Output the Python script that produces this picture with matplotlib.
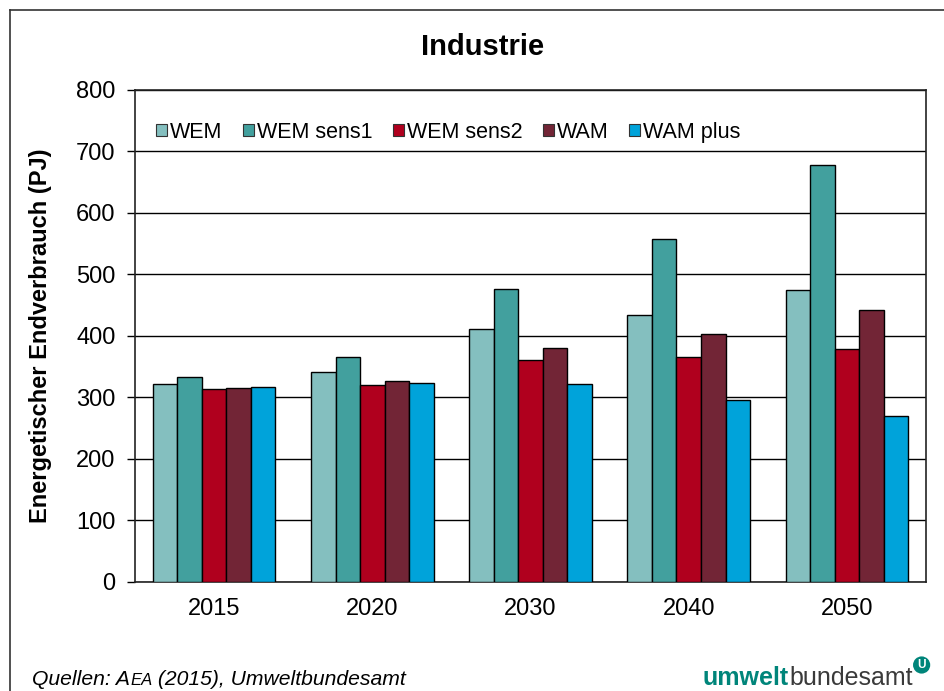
import matplotlib.pyplot as plt
import numpy as np
from matplotlib.lines import Line2D

plt.rcParams['font.family'] = ['Liberation Sans', 'DejaVu Sans']

# Data (PJ)
years = ['2015', '2020', '2030', '2040', '2050']
series = ['WEM', 'WEM sens1', 'WEM sens2', 'WAM', 'WAM plus']
wem = [322, 341, 411, 434, 474]
wem_sens1 = [333, 366, 476, 557, 678]
wem_sens2 = [314, 320, 361, 366, 379]
wam = [315, 327, 381, 403, 442]
wam_plus = [317, 324, 322, 295, 270]
colors = ['#84BFBF', '#42A09E', '#B0001E', '#722536', '#00A3DA']

values = [wem, wem_sens1, wem_sens2, wam, wam_plus]

fig = plt.figure(figsize=(9.44, 6.91), dpi=100)
ax = fig.add_axes([0.143, 0.158, 0.838, 0.712])

x = np.arange(len(years))
w = 0.155
for i, (vals, name, col) in enumerate(zip(values, series, colors)):
    ax.bar(x + (i - 2) * w, vals, w, color=col, edgecolor='black', linewidth=1,
           label=name, zorder=3)

ax.set_xlim(-0.5, 4.5)
ax.set_ylim(0, 800)
ax.set_yticks(range(0, 801, 100))
ax.set_xticks(x)
ax.set_xticklabels(years)
ax.tick_params(axis='y', labelsize=17, length=6, width=1, pad=8)
ax.tick_params(axis='x', labelsize=17, length=0, pad=12)
ax.yaxis.grid(True, color='black', linewidth=1, zorder=0)
ax.set_axisbelow(True)
for s in ax.spines.values():
    s.set_linewidth(1.2)
    s.set_color('#222222')

ax.set_ylabel('Energetischer Endverbrauch (PJ)', fontsize=17, fontweight='bold', labelpad=17)
fig.text(483 / 944, 1 - 47 / 691, 'Industrie', fontsize=21, fontweight='bold',
         ha='center', va='center')

leg = ax.legend(loc='upper left', bbox_to_anchor=(0.005, 0.97), ncol=5, frameon=False,
                fontsize=15.5, handlelength=0.5, handleheight=0.5, handletextpad=0.15,
                columnspacing=0.95, borderaxespad=0.4)
for h in leg.legend_handles:
    h.set_edgecolor('#333333')
    h.set_linewidth(0.8)

# outer frame of the picture
fig.add_artist(Line2D([10 / 944, 10 / 944], [0, 1 - 10 / 691], color='#333333', lw=1.2))
fig.add_artist(Line2D([10 / 944, 1], [1 - 10 / 691, 1 - 10 / 691], color='#333333', lw=1.2))

renderer = fig.canvas.get_renderer()


def chain(pieces, x0, y0):
    # place text pieces one after another on a common baseline (pixels)
    xpos = x0
    arts = []
    for txt, kw in pieces:
        t = fig.text(xpos / 944, y0 / 691, txt, va='baseline', ha='left', **kw)
        xpos += t.get_window_extent(renderer).width
        arts.append(t)
    return xpos, arts


# source note with small caps AEA
chain([('Quellen: A', dict(fontsize=15.2, style='italic')),
       ('EA', dict(fontsize=12, style='italic')),
       (' (2015), Umweltbundesamt', dict(fontsize=15.2, style='italic'))],
      32, 6)

# logo text
xend, _ = chain([('umwelt', dict(fontsize=18, fontweight='bold', color='#00857A')),
                 ('bundesamt', dict(fontsize=18, color='#3a3a3a'))],
                703, 6)
fig.text((xend + 9) / 944, 26 / 691, 'U', fontsize=8.5, fontweight='bold', color='white',
         ha='center', va='center',
         bbox=dict(boxstyle='circle,pad=0.22', fc='#00857A', ec='none'))

fig.savefig('out.png', dpi=100)
